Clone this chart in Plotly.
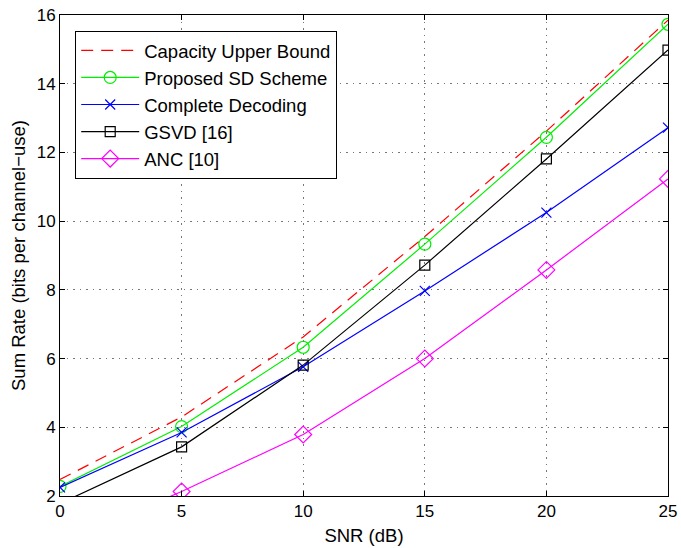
import plotly.graph_objects as go

snr = [0, 5, 10, 15, 20, 25]
capacity = [2.48, 4.30, 6.63, 9.55, 12.62, 15.85]
proposed = [2.28, 4.02, 6.33, 9.33, 12.44, 15.73]
complete = [2.25, 3.85, 5.76, 7.97, 10.25, 12.72]
gsvd = [1.78, 3.43, 5.81, 8.72, 11.81, 14.98]
anc = [0.60, 2.13, 3.79, 6.00, 8.58, 11.23]

names = ["Capacity Upper Bound", "Proposed SD Scheme", "Complete Decoding", "GSVD [16]", "ANC [10]"]

FONT = "Liberation Sans, Arial, Helvetica, sans-serif"

fig = go.Figure()
fig.add_trace(go.Scatter(x=snr, y=capacity, name=names[0], mode="lines",
                         line=dict(color="#ff0000", width=1.2, dash="12px,8px")))
fig.add_trace(go.Scatter(x=snr, y=proposed, name=names[1], mode="lines+markers",
                         line=dict(color="#00ee00", width=1.2),
                         marker=dict(symbol="circle-open", size=12, color="#00ee00", line=dict(width=1.2))))
fig.add_trace(go.Scatter(x=snr, y=complete, name=names[2], mode="lines+markers",
                         line=dict(color="#0000ff", width=1.2),
                         marker=dict(symbol="x-thin-open", size=10, color="#0000ff", line=dict(width=1.2, color="#0000ff"))))
fig.add_trace(go.Scatter(x=snr, y=gsvd, name=names[3], mode="lines+markers",
                         line=dict(color="#000000", width=1.2),
                         marker=dict(symbol="square-open", size=10, color="#000000", line=dict(width=1.2))))
fig.add_trace(go.Scatter(x=snr, y=anc, name=names[4], mode="lines+markers",
                         line=dict(color="#ff00ff", width=1.2),
                         marker=dict(symbol="diamond-open", size=13, color="#ff00ff", line=dict(width=1.2))))

axis_common = dict(
    showline=True, linecolor="black", linewidth=1, mirror="allticks",
    ticks="inside", ticklen=5, tickcolor="black",
    showgrid=True, gridcolor="#777777", griddash="1.5px,5px", gridwidth=1,
    zeroline=False, tickfont=dict(size=17, color="black", family=FONT),
    automargin=False,
)

fig.update_xaxes(range=[0, 25], tickvals=[0, 5, 10, 15, 20, 25],
                 title=dict(text="SNR (dB)", font=dict(size=18.5, color="black", family=FONT), standoff=8),
                 **axis_common)
fig.update_yaxes(range=[2, 16], tickvals=[2, 4, 6, 8, 10, 12, 14, 16],
                 title=dict(text="Sum Rate (bits per channel\u2212use)", font=dict(size=18.5, color="black", family=FONT), standoff=6),
                 **axis_common)

fig.update_layout(
    width=681, height=548,
    margin=dict(l=60, r=13, t=15, b=52),
    paper_bgcolor="white", plot_bgcolor="white",
    font=dict(family=FONT, color="black"),
    showlegend=True,
    legend=dict(x=0.025, y=0.967, xanchor="left", yanchor="top",
                bgcolor="white", bordercolor="black", borderwidth=1,
                font=dict(size=18.5, color="black", family=FONT),
                tracegroupgap=0, itemwidth=58),
)

fig.write_html("out.html")
